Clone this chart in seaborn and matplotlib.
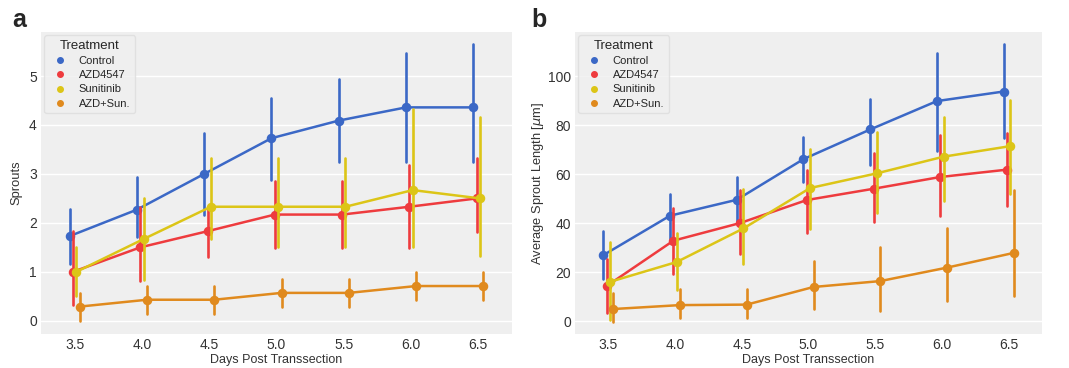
import pandas as pd
import seaborn as sns
import matplotlib.pyplot as plt
from matplotlib.lines import Line2D

days = ["3.5", "4.0", "4.5", "5.0", "5.5", "6.0", "6.5"]
treatments = ["Control", "AZD4547", "Sunitinib", "AZD+Sun."]
colors = ["#3B68C6", "#EE3B3E", "#DCC517", "#E08A1E"]

# panel a: sprout counts (mean, lower CI, upper CI)
sprouts_mean = {
    "Control": [1.73, 2.27, 3.0, 3.73, 4.09, 4.36, 4.36],
    "AZD4547": [1.0, 1.5, 1.83, 2.17, 2.17, 2.33, 2.5],
    "Sunitinib": [1.0, 1.67, 2.33, 2.33, 2.33, 2.67, 2.5],
    "AZD+Sun.": [0.29, 0.43, 0.43, 0.57, 0.57, 0.71, 0.71],
}
sprouts_lo = {
    "Control": [1.16, 1.71, 2.17, 2.88, 3.25, 3.24, 3.24],
    "AZD4547": [0.33, 0.82, 1.31, 1.48, 1.48, 1.48, 1.82],
    "Sunitinib": [0.5, 0.83, 1.67, 1.5, 1.5, 1.5, 1.33],
    "AZD+Sun.": [0.0, 0.14, 0.14, 0.29, 0.29, 0.43, 0.43],
}
sprouts_hi = {
    "Control": [2.29, 2.93, 3.84, 4.56, 4.93, 5.47, 5.65],
    "AZD4547": [1.84, 2.33, 2.33, 2.85, 2.85, 3.18, 3.33],
    "Sunitinib": [1.5, 2.5, 3.33, 3.33, 3.33, 4.33, 4.17],
    "AZD+Sun.": [0.57, 0.71, 0.71, 0.86, 0.86, 1.0, 1.0],
}

# panel b: average sprout length in um
length_mean = {
    "Control": [26.9, 43.0, 49.5, 66.1, 78.2, 89.8, 93.7],
    "AZD4547": [14.3, 32.8, 40.0, 49.4, 54.0, 58.8, 61.8],
    "Sunitinib": [16.0, 24.1, 37.8, 54.3, 60.3, 67.1, 71.4],
    "AZD+Sun.": [4.9, 6.5, 6.7, 13.9, 16.3, 21.8, 27.8],
}
length_lo = {
    "Control": [17.3, 33.6, 40.5, 56.7, 63.7, 69.5, 74.8],
    "AZD4547": [3.1, 19.0, 27.3, 36.0, 40.4, 42.9, 46.9],
    "Sunitinib": [0.5, 12.7, 23.3, 37.4, 44.2, 49.0, 51.7],
    "AZD+Sun.": [-0.3, 1.1, 1.1, 4.9, 4.2, 8.0, 10.3],
}
length_hi = {
    "Control": [36.7, 51.8, 59.0, 75.2, 90.7, 109.5, 112.9],
    "AZD4547": [25.4, 46.1, 53.5, 61.6, 68.6, 76.0, 76.6],
    "Sunitinib": [32.2, 35.9, 54.1, 70.2, 77.3, 83.4, 90.2],
    "AZD+Sun.": [11.6, 12.9, 12.9, 24.5, 30.1, 38.1, 53.5],
}


def long_table(mean, lo, hi):
    # three rows per point: median gives the mean, full range gives the CI
    rows = []
    for t in treatments:
        for i, d in enumerate(days):
            for v in (lo[t][i], mean[t][i], hi[t][i]):
                rows.append({"day": d, "Treatment": t, "value": v})
    return pd.DataFrame(rows)


sns.set_style("darkgrid", {"axes.facecolor": "#EFEFEF", "grid.color": "white"})
plt.rcParams["font.family"] = ["Liberation Sans", "DejaVu Sans"]
plt.rcParams["mathtext.fontset"] = "dejavusans"

fig = plt.figure(figsize=(10.69, 3.68), dpi=100)
ax1 = fig.add_axes([41 / 1069, 34 / 368, 471 / 1069, 302 / 368])
ax2 = fig.add_axes([575 / 1069, 34 / 368, 467 / 1069, 302 / 368])

panels = [
    (ax1, long_table(sprouts_mean, sprouts_lo, sprouts_hi), "Sprouts", (-0.27, 5.9), [0, 1, 2, 3, 4, 5], "a", 12, 5),
    (ax2, long_table(length_mean, length_lo, length_hi), r"Average Sprout Length [$\mu$m]", (-5.3, 118), [0, 20, 40, 60, 80, 100], "b", 531, 1),
]

for ax, df, ylabel, ylim, yticks, letter, lx, lpad in panels:
    sns.pointplot(
        data=df, x="day", y="value", hue="Treatment",
        order=days, hue_order=treatments, palette=colors,
        estimator="median", errorbar=("pi", 100), dodge=0.15,
        markersize=5.5, linewidth=1.8, err_kws={"linewidth": 1.9},
        legend=False, ax=ax,
    )
    ax.set_xlim(-0.5, 6.5)
    ax.set_ylim(*ylim)
    ax.set_yticks(yticks)
    ax.grid(axis="x", visible=False)
    ax.grid(axis="y", color="white", linewidth=1)
    ax.tick_params(labelsize=10, length=0, pad=3, labelcolor="#333333")
    ax.set_xlabel("Days Post Transsection", fontsize=9, color="#333333", labelpad=1)
    ax.set_ylabel(ylabel, fontsize=9.3, color="#333333", labelpad=lpad)
    for s in ax.spines.values():
        s.set_visible(False)

    handles = [
        Line2D([], [], marker="o", linestyle="", color=c, markersize=4)
        for c in colors
    ]
    leg = ax.legend(
        handles, treatments, title="Treatment", loc="upper left",
        fontsize=8, title_fontsize=9.5, frameon=True, handletextpad=0.7,
        labelspacing=0.38, borderpad=0.4, borderaxespad=0.3,
        bbox_to_anchor=(0.0, 1.0),
    )
    leg.get_frame().set_facecolor("#EFEFEF")
    leg.get_frame().set_edgecolor("#DDDDDD")
    fig.text(lx / 1069, 1 - 27 / 368, letter, fontsize=18, fontweight="bold",
             va="baseline", ha="left")

fig.savefig("out.png", dpi=100)
